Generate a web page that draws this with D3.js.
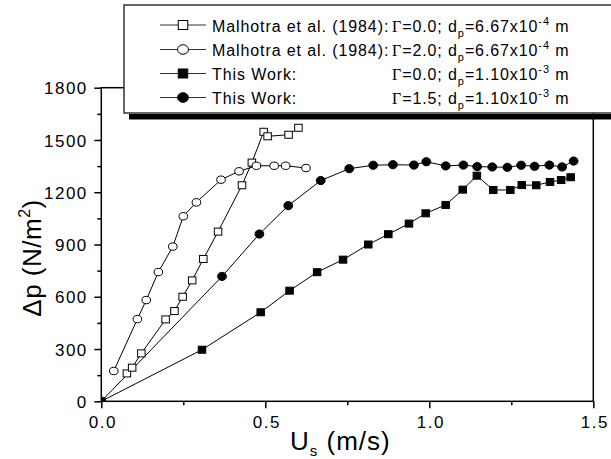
<!DOCTYPE html>
<html>
<head>
<meta charset="utf-8">
<script src="https://cdn.jsdelivr.net/npm/d3@7"></script>
<style>
  body { margin: 0; background: #fff; }
  svg { display: block; font-family: "Liberation Sans", Arial, sans-serif; }
</style>
</head>
<body>
<svg id="chart" width="611" height="459"></svg>
<script>
// superficial velocity U_s (m/s) and pressure drop (N/m2)
const malG0Us = [0.078, 0.094, 0.122, 0.196, 0.223, 0.248, 0.277, 0.311, 0.356, 0.429, 0.459, 0.495, 0.507, 0.571, 0.601]
const malG0Dp = [160, 193, 275, 470, 518, 600, 694, 817, 974, 1240, 1370, 1547, 1521, 1530, 1570]

const malG2Us = [0.038, 0.110, 0.137, 0.174, 0.218, 0.250, 0.290, 0.365, 0.420, 0.473, 0.527, 0.562, 0.624]
const malG2Dp = [174, 472, 581, 742, 888, 1062, 1142, 1272, 1320, 1352, 1352, 1352, 1339]

const workG0Us = [0, 0.307, 0.486, 0.574, 0.658, 0.737, 0.814, 0.875, 0.938, 0.989, 1.050, 1.102, 1.145, 1.195, 1.247, 1.282, 1.326, 1.368, 1.402, 1.431]
const workG0Dp = [0, 296, 511, 635, 741, 813, 900, 959, 1020, 1079, 1127, 1215, 1295, 1213, 1213, 1241, 1240, 1259, 1270, 1286]

const workG15Us = [0, 0.368, 0.482, 0.570, 0.669, 0.756, 0.829, 0.889, 0.953, 0.991, 1.050, 1.104, 1.146, 1.192, 1.238, 1.280, 1.321, 1.366, 1.405, 1.440]
const workG15Dp = [0, 717, 960, 1123, 1267, 1335, 1355, 1358, 1356, 1375, 1351, 1356, 1347, 1345, 1343, 1355, 1349, 1356, 1345, 1379]

const xMajor = [0, 0.5, 1.0, 1.5]
const xMinor = [0.25, 0.75, 1.25]
const yMajor = [0, 300, 600, 900, 1200, 1500, 1800]
const yMinor = [150, 450, 750, 1050, 1350, 1650]

const legendNames = ['Malhotra et al. (1984):', 'Malhotra et al. (1984):', 'This Work:', 'This Work:']
const legendGamma = ['0.0', '2.0', '0.0', '1.5']
const legendDp = ['6.67', '6.67', '1.10', '1.10']
const legendExp = ['-4', '-4', '-3', '-3']

const zip = (a, b) => a.map((v, i) => [v, b[i]])
const series = [
  {pts: zip(malG0Us, malG0Dp), shape: 'square', fill: '#fff'},
  {pts: zip(malG2Us, malG2Dp), shape: 'circle', fill: '#fff'},
  {pts: zip(workG0Us, workG0Dp), shape: 'square', fill: '#000'},
  {pts: zip(workG15Us, workG15Dp), shape: 'circle', fill: '#000'}
]

const plotL = 101.3, plotR = 593.3, plotT = 87.7, plotB = 401.3
const x = d3.scaleLinear().domain([0, 1.5]).range([plotL, plotR])
const y = d3.scaleLinear().domain([0, 1800]).range([plotB, plotT])

const svg = d3.select('#chart')

svg.append('clipPath').attr('id', 'plot')
  .append('rect').attr('x', plotL).attr('y', plotT)
  .attr('width', plotR - plotL).attr('height', plotB - plotT)

// frame
svg.append('rect')
  .attr('x', plotL).attr('y', plotT)
  .attr('width', plotR - plotL).attr('height', plotB - plotT)
  .attr('fill', 'none').attr('stroke', '#000').attr('stroke-width', 1.5)

const styleAxis = g => {
  g.select('.domain').remove()
  g.selectAll('line').attr('stroke', '#000').attr('stroke-width', 1.5)
  g.selectAll('text')
    .attr('fill', '#000')
    .style('font-size', '17px')
    .style('letter-spacing', '1.5px')
}

svg.append('g')
  .attr('transform', `translate(0,${plotB})`)
  .call(d3.axisBottom(x).tickValues(xMajor).tickSize(7).tickFormat(d3.format('.1f')))
  .call(styleAxis)
  .call(g => g.selectAll('text').attr('y', 27).attr('dy', 0).attr('dx', 1))

svg.append('g')
  .attr('transform', `translate(0,${plotB})`)
  .call(d3.axisBottom(x).tickValues(xMinor).tickSize(4).tickFormat(''))
  .call(styleAxis)

svg.append('g')
  .attr('transform', `translate(${plotL},0)`)
  .call(d3.axisLeft(y).tickValues(yMajor).tickSize(7).tickFormat(d3.format('d')))
  .call(styleAxis)
  .call(g => g.selectAll('text').attr('x', -13.5).attr('dy', '0.36em'))

svg.append('g')
  .attr('transform', `translate(${plotL},0)`)
  .call(d3.axisLeft(y).tickValues(yMinor).tickSize(4).tickFormat(''))
  .call(styleAxis)

// axis titles
const xt = svg.append('text')
  .attr('x', 290).attr('y', 450)
  .style('font-size', '26px').style('letter-spacing', '1px')
xt.append('tspan').text('U')
xt.append('tspan').attr('dy', 6).style('font-size', '15px').text('s')
xt.append('tspan').attr('dy', -6).text(' (m/s)')

const yt = svg.append('text')
  .attr('transform', 'translate(41,258) rotate(-90)')
  .attr('text-anchor', 'middle')
  .style('font-size', '26px').style('letter-spacing', '0.5px')
yt.append('tspan').text('\u0394p (N/m')
yt.append('tspan').attr('dy', -11).style('font-size', '16px').text('2')
yt.append('tspan').attr('dy', 11).text(')')

// data
const line = d3.line().x(d => x(d[0])).y(d => y(d[1]))
const plot = svg.append('g').attr('clip-path', 'url(#plot)')

function marker(g, shape, fill, big) {
  if (shape === 'square') {
    const w = big ? 9.5 : 7.5, h = big ? 9 : 7
    g.append('rect').attr('x', -w / 2).attr('y', -h / 2).attr('width', w).attr('height', h)
      .attr('fill', fill).attr('stroke', '#000').attr('stroke-width', 1)
  } else {
    const rx = big ? 5.4 : (fill === '#fff' ? 4.3 : 4.4)
    const ry = big ? 4.8 : (fill === '#fff' ? 3.7 : 4.1)
    g.append('ellipse').attr('rx', rx).attr('ry', ry)
      .attr('fill', fill).attr('stroke', '#000').attr('stroke-width', 1)
  }
}

series.forEach(s => {
  plot.append('path').datum(s.pts)
    .attr('d', line).attr('fill', 'none')
    .attr('stroke', '#000').attr('stroke-width', 1)
})
series.forEach(s => {
  plot.selectAll(null).data(s.pts).enter().append('g')
    .attr('transform', d => `translate(${x(d[0])},${y(d[1])})`)
    .each(function() { marker(d3.select(this), s.shape, s.fill, false) })
})

// legend
svg.append('rect').attr('x', 129).attr('y', 114).attr('width', 490).attr('height', 5.5).attr('fill', '#000')
svg.append('rect').attr('x', 124).attr('y', 5).attr('width', 500).attr('height', 108)
  .attr('fill', '#fff').attr('stroke', '#333').attr('stroke-width', 1.5)

const rowY = [25, 49.5, 73.5, 97.5]
series.forEach((s, i) => {
  const row = svg.append('g').attr('transform', `translate(0,${rowY[i]})`)
  row.append('line').attr('x1', 160).attr('x2', 206).attr('stroke', '#333').attr('stroke-width', 1)
  const m = row.append('g').attr('transform', 'translate(183,0)')
  marker(m, s.shape, s.fill, true)

  row.append('text').attr('x', 212).attr('y', 6.5)
    .style('font-size', '16px').style('letter-spacing', '0.9px')
    .text(legendNames[i])

  const t = row.append('text').attr('x', 392).attr('y', 6.5)
    .style('font-size', '16px').style('letter-spacing', '0.9px')
  t.append('tspan').style('font-family', '"Liberation Serif", "Times New Roman", serif').text('\u0393')
  t.append('tspan').text(`=${legendGamma[i]}; d`)
  t.append('tspan').attr('dy', 5).style('font-size', '11px').text('p')
  t.append('tspan').attr('dy', -5).text(`=${legendDp[i]}x10`)
  t.append('tspan').attr('dy', -7).style('font-size', '11px').text(legendExp[i])
  t.append('tspan').attr('dy', 7).text(' m')
})
</script>
</body>
</html>
